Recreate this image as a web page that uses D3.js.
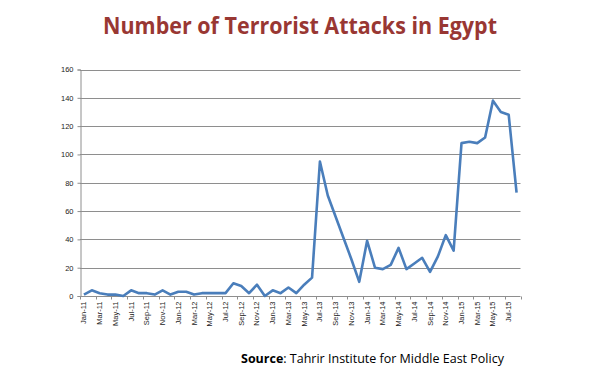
<!DOCTYPE html>
<html>
<head>
<meta charset="utf-8">
<script src="https://cdn.jsdelivr.net/npm/d3@7"></script>
<style>
  body { margin: 0; background: #fff; }
  svg { display: block; }
</style>
</head>
<body>
<svg id="chart" width="603" height="373"></svg>
<script>
// monthly counts, Jan-11 .. Aug-15
const years = ["11", "12", "13", "14", "15"];
const monthNames = ["Jan", "Feb", "Mar", "Apr", "May", "Jun", "Jul", "Aug", "Sep", "Oct", "Nov", "Dec"];
const attacks2011 = [1, 4, 2, 1, 1, 0, 4, 2, 2, 1, 4, 1];
const attacks2012 = [3, 3, 1, 2, 2, 2, 2, 9, 7, 2, 8, 0];
const attacks2013 = [4, 2, 6, 2, 8, 13, 95, 71, 56, 41, 26, 10];
const attacks2014 = [39, 20, 19, 22, 34, 19, 23, 27, 17, 28, 43, 32];
const attacks2015 = [108, 109, 108, 112, 138, 130, 128, 73];
const yTicks = [0, 20, 40, 60, 80, 100, 120, 140, 160];

const values = [].concat(attacks2011, attacks2012, attacks2013, attacks2014, attacks2015);
const months = [];
years.forEach(y => monthNames.forEach(m => months.push(m + "-" + y)));
months.length = values.length;
const data = months.map((m, i) => ({ month: m, value: values[i] }));

const svg = d3.select("#chart"),
  plotLeft = 80, plotRight = 520.5, plotTop = 69.5, plotBottom = 296;

const x = d3.scaleBand().domain(months).range([plotLeft, plotRight]);
const y = d3.scaleLinear().domain([0, 160]).range([plotBottom, plotTop]);

// title
svg.append("text")
  .attr("x", 300).attr("y", 34)
  .attr("text-anchor", "middle")
  .attr("font-family", "Open Sans")
  .attr("font-weight", "bold")
  .attr("font-size", 23)
  .attr("textLength", 394)
  .attr("lengthAdjust", "spacingAndGlyphs")
  .attr("fill", "#993733")
  .text("Number of Terrorist Attacks in Egypt");

// gridlines
svg.append("g")
  .selectAll("line")
  .data(yTicks.filter(d => d > 0))
  .join("line")
  .attr("x1", plotLeft).attr("x2", plotRight)
  .attr("y1", d => Math.round(y(d)) + 0.5).attr("y2", d => Math.round(y(d)) + 0.5)
  .attr("stroke", "#8e8e8e").attr("stroke-width", 1);

// y axis
const yAxis = svg.append("g")
  .attr("transform", `translate(${plotLeft + 0.5},0)`)
  .call(d3.axisLeft(y).tickValues(yTicks).tickSize(3).tickPadding(4));
yAxis.select(".domain").attr("stroke", "#8e8e8e");
yAxis.selectAll(".tick line").attr("stroke", "#8e8e8e");
yAxis.selectAll("text")
  .attr("font-family", "Liberation Sans").attr("font-size", 7.5).attr("fill", "#222");

// x axis: tick marks every second month boundary, labels every second month
const xg = svg.append("g").attr("transform", `translate(0,${plotBottom + 0.5})`);
xg.append("line")
  .attr("x1", plotLeft).attr("x2", plotRight)
  .attr("stroke", "#8e8e8e");
const boundaries = d3.range(0, months.length + 1, 2).map(i => plotLeft + i * x.step());
xg.selectAll("line.tk")
  .data(boundaries)
  .join("line")
  .attr("class", "tk")
  .attr("x1", d => Math.round(d) + 0.5).attr("x2", d => Math.round(d) + 0.5)
  .attr("y1", 0).attr("y2", 3)
  .attr("stroke", "#8e8e8e");
xg.selectAll("text")
  .data(months.filter((m, i) => i % 2 === 0))
  .join("text")
  .attr("transform", d => `translate(${x(d) + x.bandwidth() / 2 + 2.5},5) rotate(-90)`)
  .attr("text-anchor", "end")
  .attr("font-family", "Liberation Sans")
  .attr("font-size", 7.5)
  .attr("fill", "#222")
  .text(d => d);

// line
const line = d3.line()
  .x(d => x(d.month) + x.bandwidth() / 2)
  .y(d => y(d.value));
svg.append("path")
  .datum(data)
  .attr("d", line)
  .attr("fill", "none")
  .attr("stroke", "#4a7ebb")
  .attr("stroke-width", 2.6)
  .attr("stroke-linejoin", "round");

// source
const src = svg.append("text")
  .attr("x", 241).attr("y", 363)
  .attr("font-family", "Open Sans")
  .attr("font-size", 12.5)
  .attr("fill", "#000");
src.append("tspan").attr("font-weight", "bold").text("Source");
src.append("tspan").text(": Tahrir Institute for Middle East Policy");
</script>
</body>
</html>
